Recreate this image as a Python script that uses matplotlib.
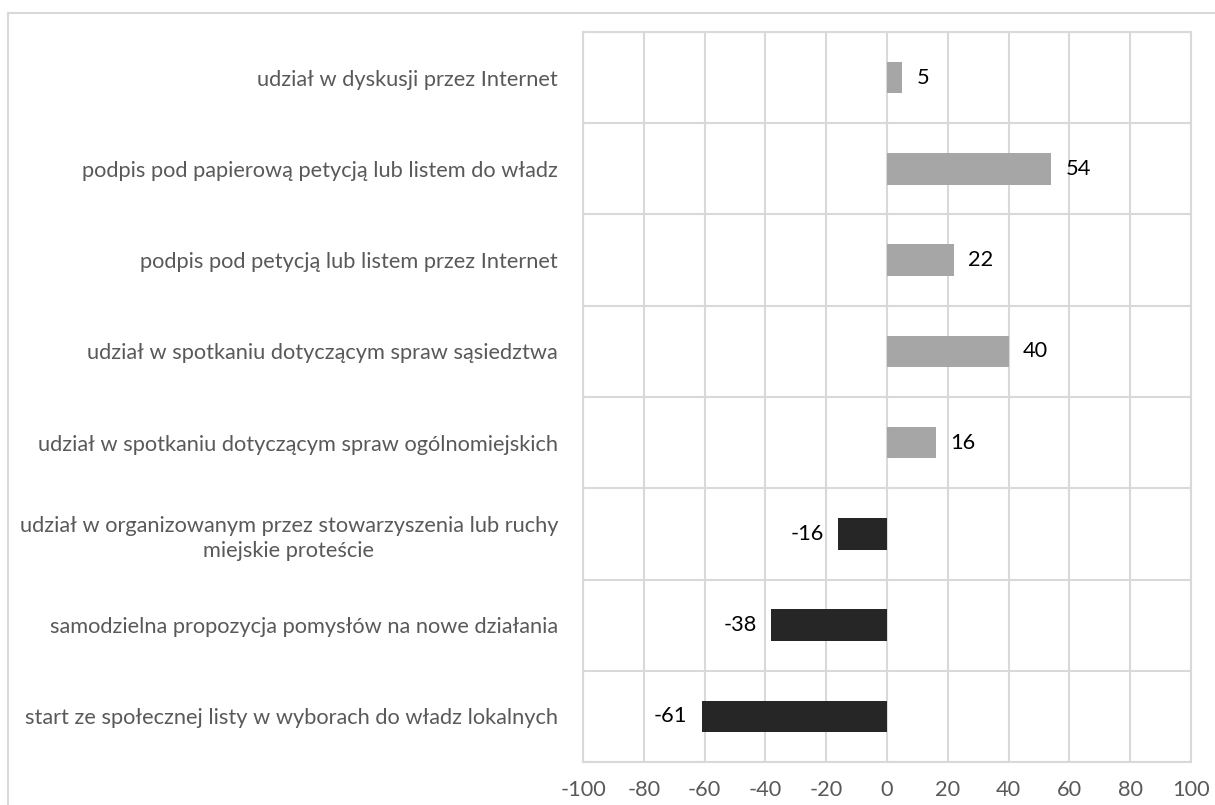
import numpy as np
import matplotlib.pyplot as plt
from matplotlib.lines import Line2D

# data, top to bottom as in the chart
categories = [
    'udział w dyskusji przez Internet',
    'podpis pod papierową petycją lub listem do władz',
    'podpis pod petycją lub listem przez Internet',
    'udział w spotkaniu dotyczącym spraw sąsiedztwa',
    'udział w spotkaniu dotyczącym spraw ogólnomiejskich',
    'udział w organizowanym przez stowarzyszenia lub ruchy\nmiejskie proteście',
    'samodzielna propozycja pomysłów na nowe działania',
    'start ze społecznej listy w wyborach do władz lokalnych',
]
values = [5, 54, 22, 40, 16, -16, -38, -61]
xticks = [-100, -80, -60, -40, -20, 0, 20, 40, 60, 80, 100]

plt.rcParams['font.family'] = ['Lato', 'DejaVu Sans']
fs = 15.7

fig = plt.figure(figsize=(12.15, 8.05), dpi=100)
ax = fig.add_axes([583 / 1215, 1 - 762 / 805, 608 / 1215, 730 / 805])

n = len(categories)
y = np.arange(n)[::-1]
colors = ['#a6a6a6' if v > 0 else '#262626' for v in values]
ax.barh(y, values, height=0.345, color=colors, zorder=3)

for yi, v in zip(y, values):
    if v > 0:
        ax.text(v + 4.8, yi, str(v), ha='left', va='center', fontsize=fs, color='#000000')
    else:
        ax.text(v - 4.8, yi, str(v), ha='right', va='center', fontsize=fs, color='#000000')

ax.set_xlim(-100, 100)
ax.set_ylim(-0.5, n - 0.5)
ax.set_xticks(xticks)
ax.set_xticklabels([str(t) for t in xticks], fontsize=fs, color='#595959')
ax.set_yticks(y)
ax.set_yticklabels(categories, fontsize=fs, color='#595959')
for lab in ax.get_yticklabels():
    lab.set_multialignment('center')
    lab.set_linespacing(1.35)
ax.set_yticks(np.arange(n + 1) - 0.5, minor=True)

ax.tick_params(axis='both', which='both', length=0)
ax.tick_params(axis='y', pad=18)
ax.tick_params(axis='x', pad=13)
ax.grid(axis='x', which='major', color='#d9d9d9', linewidth=1.5, zorder=0)
ax.grid(axis='y', which='minor', color='#d9d9d9', linewidth=1.5, zorder=0)
for s in ax.spines.values():
    s.set_color('#d9d9d9')
    s.set_linewidth(1.5)

# outer chart border
fig.add_artist(Line2D([8 / 1215, 1.0], [1 - 13 / 805, 1 - 13 / 805], color='#d9d9d9', linewidth=1.5))
fig.add_artist(Line2D([8 / 1215, 8 / 1215], [0, 1 - 13 / 805], color='#d9d9d9', linewidth=1.5))

fig.savefig('out.png', dpi=100)
